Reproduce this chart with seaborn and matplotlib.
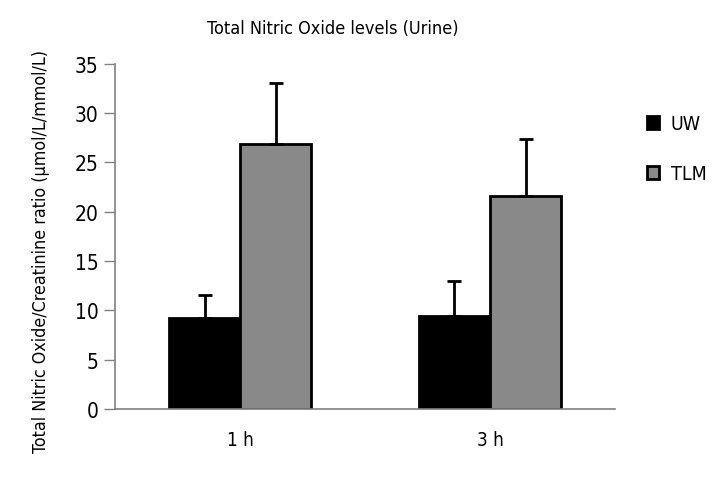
import pandas as pd
import numpy as np
import matplotlib
matplotlib.use("Agg")
import matplotlib.pyplot as plt
import seaborn as sns
from matplotlib.patches import Patch

# values
times = ["1 h", "3 h"]
groups = ["UW", "TLM"]
uw_mean = [9.2, 9.4]
uw_err = [2.3, 3.6]
tlm_mean = [26.9, 21.6]
tlm_err = [6.2, 5.8]

df = pd.DataFrame({
    "time": times * 2,
    "group": ["UW"] * 2 + ["TLM"] * 2,
    "value": uw_mean + tlm_mean,
})
errs = {"UW": uw_err, "TLM": tlm_err}

sns.set_style("white")
plt.rcParams["font.family"] = ["DejaVu Sans"]
plt.rcParams["font.stretch"] = "condensed"
plt.rcParams["text.color"] = "black"
plt.rcParams["axes.labelcolor"] = "black"
plt.rcParams["xtick.color"] = "black"
plt.rcParams["ytick.color"] = "black"

fig = plt.figure(figsize=(7.2, 4.81), dpi=100)
ax = fig.add_axes([0.16, 0.148, 0.694, 0.717])

colors = {"UW": "#000000", "TLM": "#898989"}
sns.barplot(data=df, x="time", y="value", hue="group", hue_order=groups,
            palette=colors, width=0.57, edgecolor="black", linewidth=2,
            errorbar=None, legend=False, ax=ax)

# upward-only error bars
for cont, g in zip(ax.containers, groups):
    xs = [b.get_x() + b.get_width() / 2 for b in cont]
    ys = [b.get_height() for b in cont]
    e = errs[g]
    ax.errorbar(xs, ys, yerr=[np.zeros(len(e)), e], fmt="none",
                ecolor="black", elinewidth=2, capsize=5, capthick=2, zorder=3)

ax.set_xlim(-0.5, 1.5)
ax.set_ylim(0, 35)
ax.set_yticks(range(0, 36, 5))
ax.tick_params(axis="y", direction="out", length=8, width=1, color="#808080",
               labelcolor="black", labelsize=15, pad=4, left=True)
ax.tick_params(axis="x", length=0, labelsize=13.5, pad=15, labelcolor="black")
for s in ["top", "right"]:
    ax.spines[s].set_visible(False)
for s in ["left", "bottom"]:
    ax.spines[s].set_color("#808080")
    ax.spines[s].set_linewidth(1.2)

ax.set_xlabel("")
ax.set_ylabel("Total Nitric Oxide/Creatinine ratio (µmol/L/mmol/L)", fontsize=12.8)
ax.yaxis.set_label_coords(-0.13, 0.46)
fig.text(0.4625, 0.94, "Total Nitric Oxide levels (Urine)", ha="center",
         va="center", fontsize=13)

handles = [Patch(facecolor=colors[g], edgecolor="black", linewidth=2, label=g)
           for g in groups]
ax.legend(handles=handles, loc="upper left", bbox_to_anchor=(1.03, 0.905),
          frameon=False, fontsize=14, handlelength=0.6, handleheight=0.6,
          labelspacing=1.6, handletextpad=0.6)

fig.savefig("out.png", dpi=100)
